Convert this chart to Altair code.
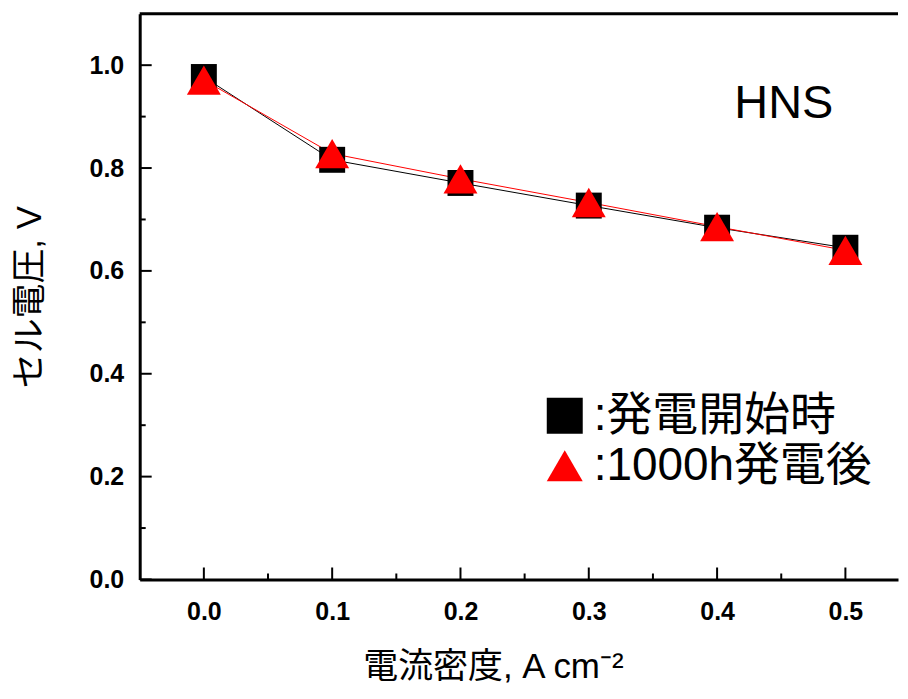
import altair as alt
import pandas as pd

# ---- data ----
x_vals = [0.0, 0.1, 0.2, 0.3, 0.4, 0.5]
v_start = [0.977, 0.816, 0.771, 0.727, 0.684, 0.645]   # ■ 発電開始時
v_after = [0.971, 0.828, 0.779, 0.733, 0.686, 0.640]   # ▲ 1000h発電後
series_names = ["発電開始時", "1000h発電後"]

x_major = [0.0, 0.1, 0.2, 0.3, 0.4, 0.5]
x_minor = [0.05, 0.15, 0.25, 0.35, 0.45]
y_major = [0.0, 0.2, 0.4, 0.6, 0.8, 1.0]
y_minor = [0.1, 0.3, 0.5, 0.7, 0.9]

annot_x = [0.452]
annot_y = [0.925]
annot_text = ["HNS"]

# ---- layout ----
W, H = 760, 567
XD = [-0.05, 0.541]
YD = [0.0, 1.1]
FONT = "Liberation Sans, Noto Sans CJK JP, sans-serif"

df = pd.DataFrame({
    "x": x_vals + x_vals,
    "v": v_start + v_after,
    "series": [series_names[0]] * len(x_vals) + [series_names[1]] * len(x_vals),
})

xscale = alt.Scale(domain=XD, nice=False, zero=False)
yscale = alt.Scale(domain=YD, nice=False, zero=False)

xaxis = alt.Axis(
    values=x_major, format=".1f", ticks=False, grid=False,
    domainWidth=3, domainColor="black",
    labelFont=FONT, labelFontSize=25, labelFontWeight="bold", labelColor="black",
    labelPadding=20,
    title="電流密度, A cm⁻²", titleFont=FONT, titleFontSize=35,
    titleFontWeight="normal", titleColor="black", titlePadding=25, titleX=354,
)
yaxis = alt.Axis(
    values=y_major, format=".1f", ticks=False, grid=False,
    domainWidth=3, domainColor="black",
    labelFont=FONT, labelFontSize=25, labelFontWeight="bold", labelColor="black",
    labelPadding=16,
    title="セル電圧, V", titleFont=FONT, titleFontSize=35,
    titleFontWeight="normal", titleColor="black", titlePadding=42,
)

legend = alt.Legend(
    title=None, orient="none", legendX=403, legendY=380,
    symbolSize=1300, symbolStrokeWidth=0, symbolOpacity=1,
    labelFont=FONT, labelFontSize=46, labelColor="black", labelLimit=0,
    labelExpr="':' + datum.label", labelOffset=6, rowPadding=4,
)

color = alt.Color("series:N", scale=alt.Scale(domain=series_names, range=["#000000", "#ff0000"]), legend=legend)
shape = alt.Shape("series:N", scale=alt.Scale(domain=series_names, range=["square", "triangle-up"]), legend=legend)


def X(field):
    return alt.X(field, scale=xscale, axis=xaxis)


def Y(field):
    return alt.Y(field, scale=yscale, axis=yaxis)


base = alt.Chart(df)
start = base.transform_filter(alt.datum.series == series_names[0])
after = base.transform_filter(alt.datum.series == series_names[1])

line_start = start.mark_line(color="#000000", strokeWidth=1).encode(x=X("x:Q"), y=Y("v:Q"))
line_after = after.mark_line(color="#ff0000", strokeWidth=1).encode(x=X("x:Q"), y=Y("v:Q"))

pts_start = start.mark_point(filled=True, opacity=1, strokeWidth=0, size=676).encode(
    x=X("x:Q"), y=Y("v:Q"), color=color, shape=shape)
pts_after = after.mark_point(filled=True, opacity=1, strokeWidth=0, size=1156).encode(
    x=X("x:Q"), y=Y("v:Q"), color=color, shape=shape)

# inward tick marks
xt_major = alt.Chart(pd.DataFrame({"x": x_major})).mark_rule(color="black", strokeWidth=2).encode(
    x=X("x:Q"), y=alt.value(H), y2=alt.value(H - 12))
xt_minor = alt.Chart(pd.DataFrame({"x": x_minor})).mark_rule(color="black", strokeWidth=2).encode(
    x=X("x:Q"), y=alt.value(H), y2=alt.value(H - 6))
yt_major = alt.Chart(pd.DataFrame({"v": y_major})).mark_rule(color="black", strokeWidth=2).encode(
    y=Y("v:Q"), x=alt.value(0), x2=alt.value(12))
yt_minor = alt.Chart(pd.DataFrame({"v": y_minor})).mark_rule(color="black", strokeWidth=2).encode(
    y=Y("v:Q"), x=alt.value(0), x2=alt.value(6))

top_border = alt.Chart(pd.DataFrame({"v": [YD[1]]})).mark_rule(color="black", strokeWidth=3).encode(
    y=Y("v:Q"))

annot = alt.Chart(pd.DataFrame({"x": annot_x, "v": annot_y, "label": annot_text})).mark_text(
    font=FONT, fontSize=47, color="black", align="center", baseline="middle"
).encode(x=X("x:Q"), y=Y("v:Q"), text="label:N")

chart = alt.layer(
    line_start, line_after, xt_major, xt_minor, yt_major, yt_minor, top_border,
    pts_start, pts_after, annot
).properties(
    width=W, height=H,
    padding={"left": 4, "top": 3, "right": 0, "bottom": 0},
    background="white",
).configure_view(stroke=None)

chart.save("out.html", embed_options={"renderer": "svg", "actions": False})
